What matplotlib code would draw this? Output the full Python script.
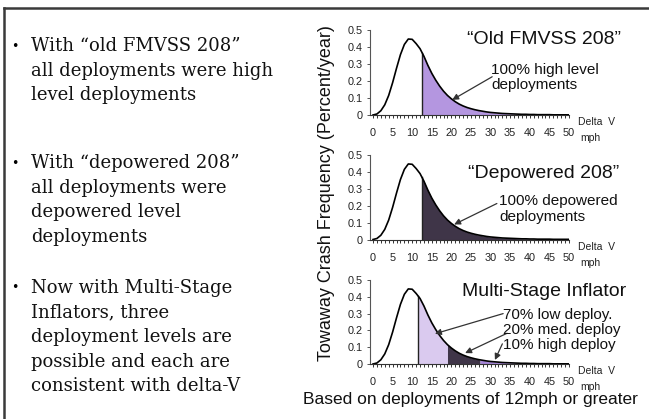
import numpy as np
import matplotlib.pyplot as plt
from matplotlib.ticker import MultipleLocator

# crash frequency curve (percent/year), per 1 mph delta V
delta_v = list(range(0, 51))
freq = [0.000, 0.006, 0.025, 0.060, 0.115, 0.190, 0.275, 0.355, 0.415, 0.447,
        0.445, 0.420, 0.390, 0.345, 0.292, 0.245, 0.205, 0.170, 0.140, 0.115,
        0.095, 0.078, 0.064, 0.053, 0.044, 0.037, 0.031, 0.026, 0.022, 0.018,
        0.015, 0.013, 0.011, 0.009, 0.008, 0.007, 0.006, 0.005, 0.004, 0.004,
        0.003, 0.003, 0.002, 0.002, 0.002, 0.002, 0.001, 0.001, 0.001, 0.001,
        0.001]

panel_titles = ['\u201cOld FMVSS 208\u201d', '\u201cDepowered 208\u201d', 'Multi-Stage Inflator']
panel_notes = ['100% high level\ndeployments', '100% depowered\ndeployments',
               '70% low deploy.\n20% med. deploy\n10% high deploy']
# shaded deployment bands per panel: (start mph, end mph)
bands = [
    [(12.5, 50)],
    [(12.5, 50)],
    [(11.5, 19.0), (19.0, 27.3), (27.3, 50)],
]
band_colors = [
    ['#b496e0'],
    ['#3f3548'],
    ['#dacaef', '#3f3548', '#a686d8'],
]
x_ticks = [0, 5, 10, 15, 20, 25, 30, 35, 40, 45, 50]
y_ticks = [0, 0.1, 0.2, 0.3, 0.4, 0.5]
y_tick_labels = ['0', '0.1', '0.2', '0.3', '0.4', '0.5']

bullets = [
    ['With \u201cold FMVSS 208\u201d', 'all deployments were high', 'level deployments'],
    ['With \u201cdepowered 208\u201d', 'all deployments were', 'depowered level', 'deployments'],
    ['Now with Multi-Stage', 'Inflators, three', 'deployment levels are',
     'possible and each are', 'consistent with delta-V'],
]

W, H = 649, 419
dv = np.array(delta_v, dtype=float)
fr = np.array(freq)

sans = 'Liberation Sans'
serif = 'DejaVu Serif'

fig = plt.figure(figsize=(W / 100, H / 100), dpi=100)
fig.patch.set_facecolor('white')


def fx(px):
    return px / W


def fy(py):
    return 1 - py / H


# slide frame (top and left edge)
fig.add_artist(plt.Line2D([fx(4), 1], [fy(8.5), fy(8.5)], color='#3a3a3a', lw=1.8))
fig.add_artist(plt.Line2D([fx(4), fx(4)], [fy(8.5), 0], color='#3a3a3a', lw=1.8))

# bullet text on the left
line_y = [[46, 70.5, 95], [163, 187.5, 212, 236.5], [288, 312.5, 337, 361.5, 386]]
for lines, ys in zip(bullets, line_y):
    fig.text(fx(11), fy(ys[0]), '\u2022', family=serif, fontsize=9, va='center', ha='left')
    for txt, y in zip(lines, ys):
        fig.text(fx(31), fy(y), txt, family=serif, fontsize=13, va='center', ha='left',
                 color='#111111')

# the three small charts
top_px = [30, 155, 280]
zero_px = [115, 239.5, 364]
title_y = [40, 174, 291]
note_pos = [(491, 77.5), (499, 209), (503, 330)]
arrows = [
    [((30.4, 0.225), (20.2, 0.089))],
    [((31.6, 0.213), (20.7, 0.089))],
    [((33.2, 0.30), (15.8, 0.18)), ((34.2, 0.183), (23.5, 0.065)),
     ((33.0, 0.12), (31.1, 0.024))],
]
x0_px, x50_px = 373, 569
ppu = (x50_px - x0_px) / 50.0

for i in range(3):
    left = x0_px - 0.75 * ppu
    ax = fig.add_axes([fx(left), fy(zero_px[i]), (x50_px - left) / W,
                       (zero_px[i] - top_px[i]) / H])
    ax.set_xlim(-0.75, 50)
    ax.set_ylim(0, 0.5)
    for (lo, hi), c in zip(bands[i], band_colors[i]):
        xs = np.concatenate([[lo], dv[(dv > lo) & (dv < hi)], [hi]])
        ys = np.interp(xs, dv, fr)
        ax.fill_between(xs, 0, ys, color=c, lw=0)
    lo0 = bands[i][0][0]
    ax.plot([lo0, lo0], [0, np.interp(lo0, dv, fr)], color='#222222', lw=1.0)
    ax.plot(dv, fr, color='black', lw=1.2)

    for s in ['top', 'right']:
        ax.spines[s].set_visible(False)
    ax.spines['left'].set_color('#555555')
    ax.spines['bottom'].set_color('#333333')
    ax.spines['left'].set_linewidth(0.8)
    ax.spines['bottom'].set_linewidth(0.8)
    ax.set_xticks(x_ticks)
    ax.xaxis.set_minor_locator(MultipleLocator(1))
    ax.tick_params(axis='x', which='both', direction='out', length=2.5, width=0.7,
                   color='#333333', pad=7, labelsize=7.8, labelcolor='#222222')
    ax.set_yticks(y_ticks)
    ax.set_yticklabels(y_tick_labels)
    ax.tick_params(axis='y', direction='out', length=2.5, width=0.7, color='#555555',
                   pad=3, labelsize=7.8, labelcolor='#222222')
    for lab in ax.get_xticklabels() + ax.get_yticklabels():
        lab.set_family(sans)

    fig.text(fx(544), fy(title_y[i]), panel_titles[i], family=sans, fontsize=14,
             ha='center', va='center', color='#111111')
    fig.text(fx(note_pos[i][0]), fy(note_pos[i][1]), panel_notes[i], family=sans,
             fontsize=11, ha='left', va='center', linespacing=1.1, color='#111111')
    for tail, head in arrows[i]:
        ax.annotate('', xy=head, xytext=tail, xycoords='data', textcoords='data',
                    arrowprops=dict(arrowstyle='-|>', color='#333333', lw=0.9,
                                    mutation_scale=9, shrinkA=0, shrinkB=0))
    fig.text(fx(578), fy(zero_px[i] + 7), 'Delta  V', family=sans, fontsize=7.5,
             ha='left', va='center', color='#222222')
    fig.text(fx(590), fy(zero_px[i] + 23), 'mph', family=sans, fontsize=7.5,
             ha='center', va='center', color='#222222')

fig.text(fx(326), fy(193), 'Towaway Crash Frequency (Percent/year)', family=sans,
         fontsize=13, rotation=90, ha='center', va='center', color='#111111')
fig.text(fx(470), fy(399), 'Based on deployments of 12mph or greater', family=sans,
         fontsize=12.5, ha='center', va='center', color='#111111')

fig.savefig('out.png', dpi=100)
